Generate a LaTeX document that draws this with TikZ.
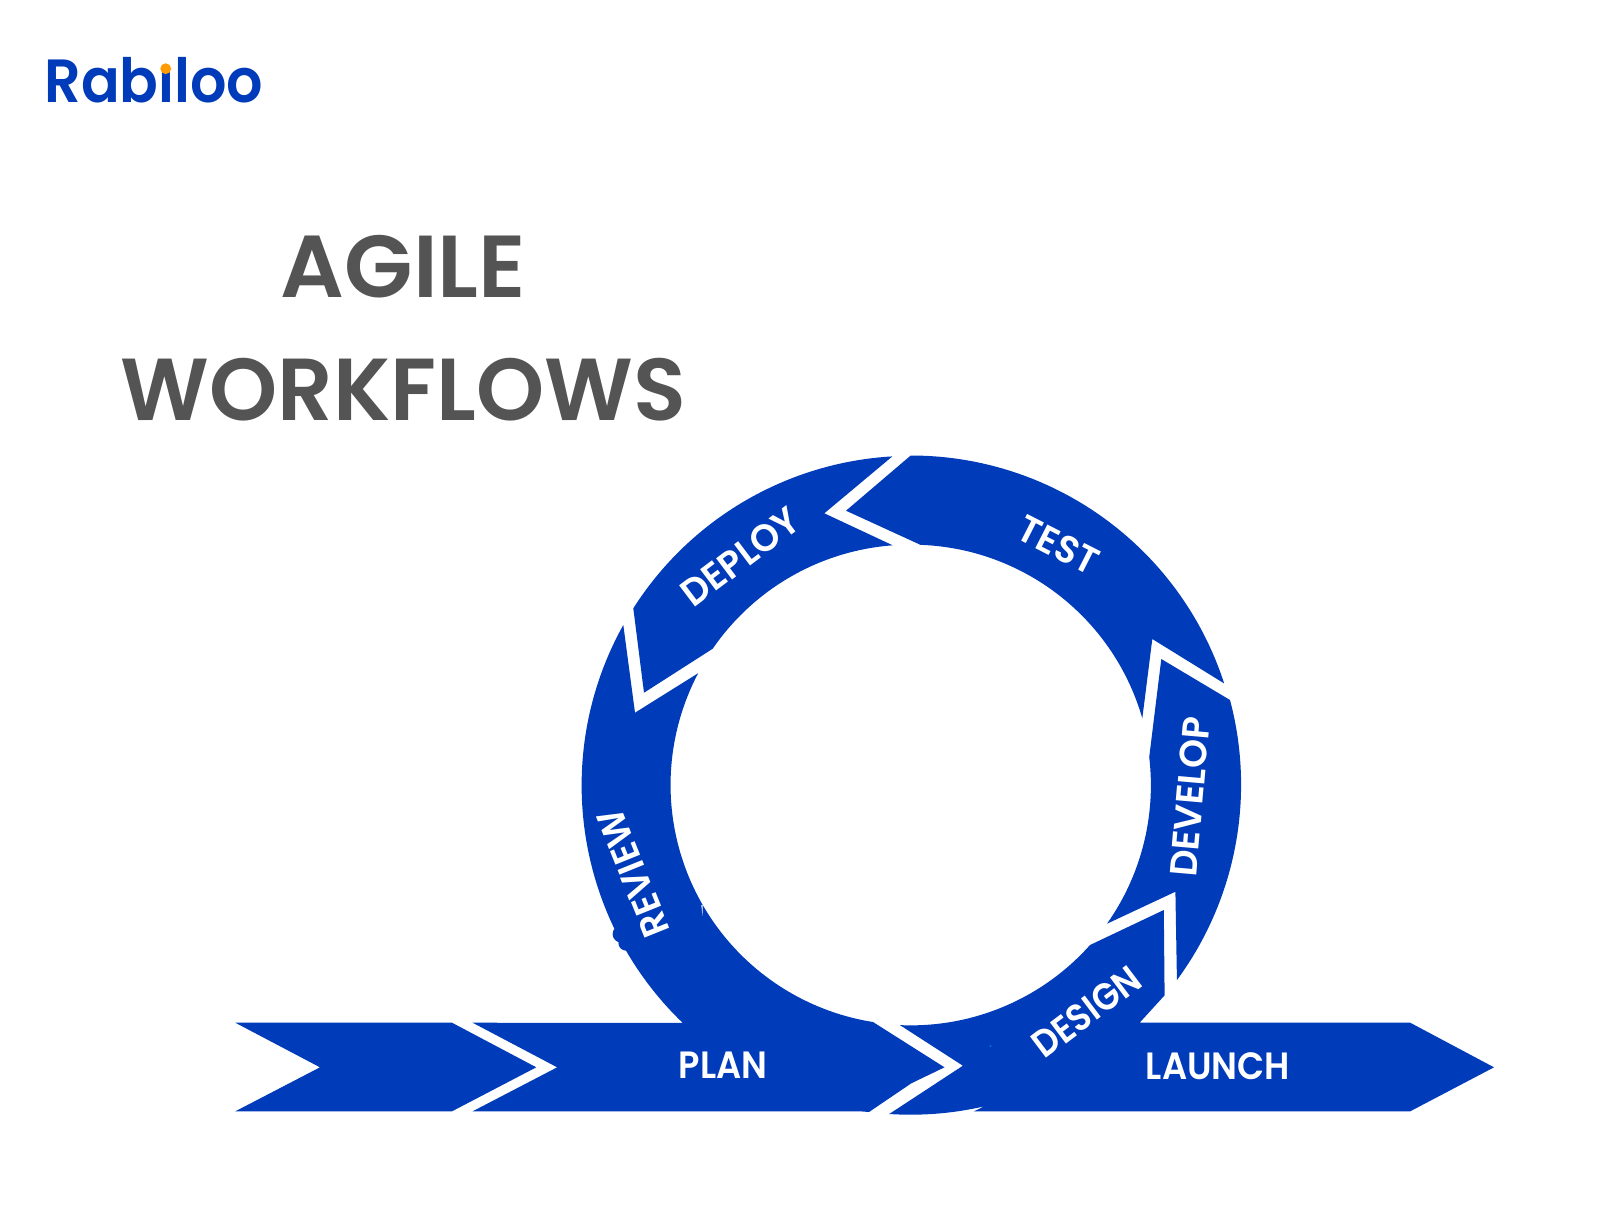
\documentclass[tikz,border=0pt]{standalone}
\usepackage{fontspec}
\setmainfont{Poppins}[BoldFont={Poppins SemiBold}]
\definecolor{rabblue}{HTML}{003BBA}
\definecolor{titlegray}{HTML}{545454}
\definecolor{rabdot}{HTML}{FF9A00}
\definecolor{speck}{HTML}{0B6FD6}
\tikzset{
  band/.style={fill=rabblue,draw=none},
  lab/.style={text=white,font=\fontsize{19}{19}\selectfont\bfseries,inner sep=0pt,anchor=center},
  ttl/.style={text=titlegray,font=\fontsize{44}{44}\selectfont\bfseries,inner sep=0pt,anchor=base},
  ro/.style={radius=164.75pt},
  ri/.style={radius=120pt}
}
\begin{document}
\begin{tikzpicture}[x=0.5pt,y=-0.5pt]
\useasboundingbox (0,0) rectangle (1616,1212);
\fill[white] (0,0) rectangle (1616,1212);
% logo
\node[text=rabblue,font=\fontsize{30.5}{30.5}\selectfont\bfseries,inner sep=0pt,anchor=base west] (logo) at (44,102.5) {\scalebox{.937}[1]{Rabiloo}};
\fill[white] (166.7,59) circle[radius=3.6pt];
\fill[rabdot] (165.7,68.7) circle[radius=2.7pt];
% title
\node[ttl] (agile) at (403.5,297) {\scalebox{1.012}[1]{AGILE}};
\node[ttl] (workflows) at (403.5,420.5) {\scalebox{.985}[1]{WORKFLOWS}};
% left chevron
\fill[band] (235.3,1022.7) -- (452,1022.7) -- (536.3,1067.3) -- (452,1111.3) -- (235.3,1111.3) -- (320,1067.3) -- cycle;
% review + plan
\fill[band] (623.3,625) arc[start angle=150.87,end angle=226.13,ro] -- (472.6,1022.7) -- (557.2,1067.3) -- (472.6,1111.3) -- (860.3,1111.3) -- (869,1112) -- (911.3,1083.3) -- (944.5,1067.3) -- (873,1022) arc[start angle=261,end angle=152.24,ri] -- (635,712.7) -- cycle;
\fill[band] (621,934) circle[radius=4.2pt];
\fill[band] (626,943) circle[radius=3.8pt];
\fill[white] (701.3,905) -- (702.6,905) -- (702.6,916) -- cycle;
% deploy
\fill[band] (633.3,608.3) arc[start angle=147.5,end angle=93.28,ro] -- (824.3,513.3) -- (892.7,545.3) arc[start angle=94.25,end angle=145.5,ri] -- (644,692.7) -- cycle;
% test
\fill[band] (910.7,455.5) arc[start angle=90,end angle=17.96,ro] -- (1152.3,639) -- (1142.3,718.3) arc[start angle=16.05,end angle=87.9,ri] -- (846,510.7) -- cycle;
% develop
\fill[band] (1161.3,659) -- (1230,700) arc[start angle=14.9,end angle=-36.36,ro] -- (1175.4,891.7) -- (1107,923.7) arc[start angle=-35.2,end angle=6.76,ri] -- cycle;
% design + launch
\fill[band] (1163.8,910) -- (1090,945) arc[start angle=-41.7,end angle=-92.6,ri] -- (962.9,1065.7) -- (889.2,1114) arc[start angle=-93.7,end angle=-77.05,ro] -- (974,1111.3) -- (1410.2,1111.3) -- (1494,1067.3) -- (1410.2,1022.7) -- (1139.6,1022.7) -- (1164.6,995.3) -- cycle;
\fill[speck] (990.5,1046) circle[radius=0.6pt];
% labels
\node[lab] (plan) at (723,1065) {\scalebox{.925}[1]{PLAN}};
\node[lab] (launch) at (1218,1066.5) {\scalebox{.927}[1]{LAUNCH}};
\node[lab,rotate=37] (design) at (1086.5,1011.7) {\scalebox{.9}[1]{DESIGN}};
\node[lab,rotate=85] (develop) at (1190,797) {\scalebox{.97}[1]{DEVELOP}};
\node[lab,rotate=-27] (testl) at (1058.4,545) {\scalebox{.97}[1]{TEST}};
\node[lab,rotate=37] (deploy) at (740.5,556.7) {\scalebox{.97}[1]{DEPLOY}};
\node[lab,rotate=112] (review) at (633.3,873) {\scalebox{.95}[1]{REVIEW}};
\end{tikzpicture}
\end{document}
